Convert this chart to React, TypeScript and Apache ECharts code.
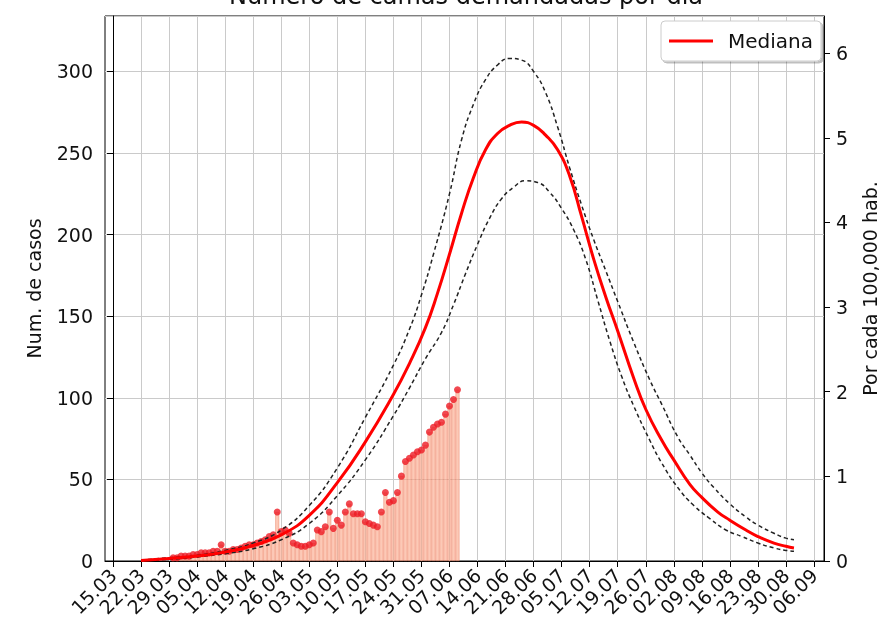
import React, { useEffect, useRef } from 'react';
import * as echarts from 'echarts';

const tickLabels = [
  '15.03', '22.03', '29.03', '05.04', '12.04', '19.04', '26.04', '03.05', '10.05',
  '17.05', '24.05', '31.05', '07.06', '14.06', '21.06', '28.06', '05.07', '12.07',
  '19.07', '26.07', '02.08', '09.08', '16.08', '23.08', '30.08', '06.09',
];
const tickDays = tickLabels.map((_, i) => i * 7);

const medianDays = [7, 14, 21, 28, 35, 42, 49, 56, 63, 70, 74, 78, 81, 84, 87, 90, 93, 96, 99, 102, 105, 108, 111, 114, 117, 120, 123, 126, 130, 133, 137, 140, 144, 147, 151, 154, 158, 161, 165, 168, 170];
const medianValues = [0.3, 1.5, 3, 5.5, 9.5, 16, 28, 48, 73, 102, 121, 143, 164, 188, 213, 235, 252, 262, 267, 269, 267, 261, 252, 236, 211, 185, 162, 141, 112, 93, 74, 62, 47, 39, 30, 25, 19, 15, 11, 9, 8];

const upperDays = [7, 14, 21, 28, 35, 42, 49, 56, 63, 70, 74, 77, 80, 84, 87, 90, 93, 96, 99, 102, 105, 108, 111, 114, 117, 120, 123, 126, 130, 134, 137, 141, 144, 147, 150, 154, 158, 161, 165, 168, 170];
const upperValues = [0.5, 2, 3.5, 6.5, 11, 19, 34, 57, 88, 120, 142, 163, 188, 225, 258, 280, 295, 304, 308, 307, 300, 287, 266, 241, 218, 197, 178, 159, 134, 111, 96, 76, 65, 54, 45, 35, 27, 22, 17, 14, 13];

const lowerDays = [7, 14, 21, 28, 35, 42, 49, 56, 63, 70, 74, 78, 82, 85, 88, 91, 94, 97, 100, 103, 106, 109, 112, 115, 118, 121, 124, 127, 130, 134, 137, 141, 145, 149, 153, 157, 161, 165, 168, 170];
const lowerValues = [0.2, 1, 2.5, 4.5, 7.5, 13, 23, 40, 62, 89, 106, 124, 140, 157, 176, 194, 210, 222, 229, 233, 232, 226, 216, 203, 185, 160, 135, 113, 95, 74, 60, 45, 34, 26, 19, 15, 11, 8, 6.5, 6];

const dailyStartDay = 15;
const dailyCases = [
  2, 2, 3, 3, 3, 4, 4, 5, 5, 5, 6, 6, 10, 6, 6, 7, 7, 8, 9, 10, 10, 11, 12, 13, 15, 16,
  30, 18, 19, 17, 11, 10, 9, 9, 10, 11, 19, 18, 21, 30, 20, 25, 22, 30, 35, 29, 29, 29,
  24, 23, 22, 21, 30, 42, 36, 37, 42, 52, 61, 63, 65, 67, 68, 71, 79, 82, 84, 85, 90, 95, 99, 105,
];

const FONT = 'DejaVu Sans';

export default function App() {
  const ref = useRef<HTMLDivElement>(null);
  useEffect(() => {
    const chart = echarts.init(ref.current!, undefined, { renderer: 'svg' });
    const pairs = (days: number[], vals: number[]) => days.map((d, i) => [d, vals[i]]);
    const daily = dailyCases.map((v, i) => [dailyStartDay + i, v]);
    const tickText = { fontFamily: FONT, fontSize: 19, color: '#111' };
    chart.setOption({
      animation: false,
      graphic: [
        {
          type: 'text',
          x: 466,
          y: 8,
          style: {
            text: 'Número de camas demandadas por día',
            fontFamily: FONT,
            fontSize: 24,
            fill: '#111',
            textAlign: 'center',
            textVerticalAlign: 'bottom',
          },
        },
      ],
      legend: {
        data: ['Mediana'],
        right: 66,
        top: 21,
        itemWidth: 44,
        itemHeight: 3,
        itemGap: 0,
        icon: 'rect',
        padding: [10, 8, 10, 8],
        borderColor: '#cccccc',
        borderWidth: 1,
        borderRadius: 4,
        backgroundColor: '#ffffff',
        shadowColor: 'rgba(0,0,0,0.25)',
        shadowOffsetX: 2,
        shadowOffsetY: 2,
        textStyle: { fontFamily: FONT, fontSize: 20, color: '#111', padding: [0, 0, 0, 10] },
      },
      grid: {
        left: 105,
        right: 59,
        top: 16,
        bottom: 65,
        show: true,
        borderColor: '#000',
        borderWidth: 1,
        backgroundColor: 'transparent',
      },
      xAxis: {
        type: 'value',
        min: -2,
        max: 177.5,
        axisLine: { show: true, lineStyle: { color: '#000' } },
        axisTick: { show: true, customValues: tickDays, length: 6, lineStyle: { color: '#000' } },
        axisLabel: {
          ...tickText,
          customValues: tickDays,
          rotate: 45,
          margin: 11,
          padding: [0, 0, 0, 0],
          formatter: (v: number) => tickLabels[Math.round(v / 7)] ?? '',
        },
        splitLine: { show: true, lineStyle: { color: '#cacaca', width: 1 } },
      },
      yAxis: [
        {
          type: 'value',
          min: 0,
          max: 334,
          interval: 50,
          position: 'left',
          name: 'Num. de casos',
          nameLocation: 'middle',
          nameGap: 62,
          nameRotate: 90,
          nameTextStyle: { fontFamily: FONT, fontSize: 19, color: '#111' },
          axisLine: { show: true, lineStyle: { color: '#000' } },
          axisTick: { show: true, length: 6, lineStyle: { color: '#000' } },
          axisLabel: { ...tickText, showMaxLabel: false, margin: 12 },
          splitLine: { show: true, lineStyle: { color: '#cacaca', width: 1 } },
        },
        {
          type: 'value',
          min: 0,
          max: 6.44,
          interval: 1,
          position: 'right',
          name: 'Por cada 100,000 hab.',
          nameLocation: 'middle',
          nameGap: 36,
          nameRotate: 90,
          nameTextStyle: { fontFamily: FONT, fontSize: 19, color: '#111' },
          axisLine: { show: true, lineStyle: { color: '#000' } },
          axisTick: { show: true, length: 6, lineStyle: { color: '#000' } },
          axisLabel: { ...tickText, showMaxLabel: false, margin: 12 },
          splitLine: { show: false },
        },
      ],
      series: [
        {
          type: 'bar',
          name: 'Casos',
          data: daily,
          barWidth: 4,
          itemStyle: { color: 'rgba(250,165,135,0.6)', borderColor: 'rgba(235,120,90,0.7)', borderWidth: 0.6 },
          z: 1,
        },
        {
          type: 'scatter',
          name: 'Datos',
          data: daily,
          symbolSize: 7,
          itemStyle: { color: '#ee1c25' },
          z: 3,
        },
        {
          type: 'line',
          name: 'Superior',
          data: pairs(upperDays, upperValues),
          smooth: true,
          symbol: 'none',
          lineStyle: { color: '#222', width: 1.5, type: [4, 3] },
          z: 4,
        },
        {
          type: 'line',
          name: 'Inferior',
          data: pairs(lowerDays, lowerValues),
          smooth: true,
          symbol: 'none',
          lineStyle: { color: '#222', width: 1.5, type: [4, 3] },
          z: 4,
        },
        {
          type: 'line',
          name: 'Mediana',
          data: pairs(medianDays, medianValues),
          smooth: true,
          symbol: 'none',
          color: '#ff0000',
          lineStyle: { color: '#ff0000', width: 3 },
          z: 5,
        },
      ],
    });
    return () => chart.dispose();
  }, []);
  return <div ref={ref} style={{ position: 'fixed', left: 0, top: 0, width: 887, height: 626 }} />;
}
